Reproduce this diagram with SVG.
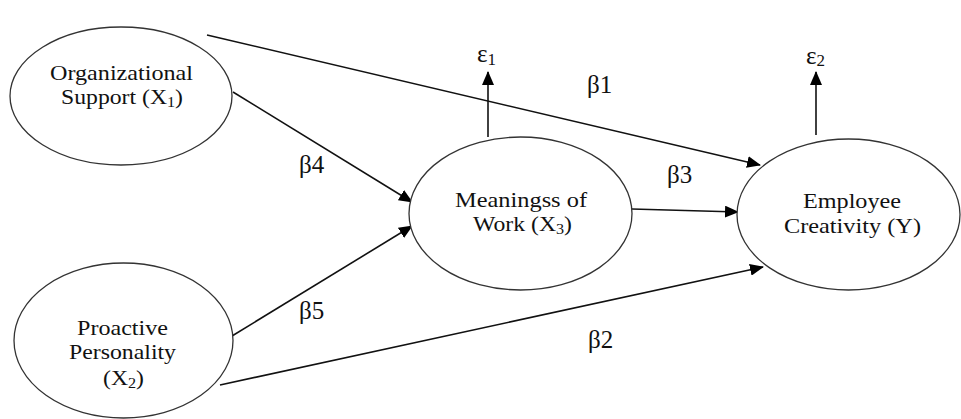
<svg xmlns="http://www.w3.org/2000/svg" width="961" height="419" viewBox="0 0 961 419">
<defs>
<style>
.node ellipse{fill:#fff;stroke:#333;stroke-width:1.3}
.conn path{fill:none;stroke:#111;stroke-width:1.6}
</style>
<marker id="ah" markerUnits="userSpaceOnUse" markerWidth="14" markerHeight="12" refX="13" refY="6" orient="auto">
<path d="M0,0 L14,6 L0,12 z" fill="#000"/>
</marker>
</defs>
<rect width="961" height="419" fill="#fff"/>
<g id="conn" class="conn">
<path d="M207,35 L760,165" marker-end="url(#ah)"/>
<path d="M233,92 L412,202" marker-end="url(#ah)"/>
<path d="M232,336 L412,226" marker-end="url(#ah)"/>
<path d="M632,209 L738,212" marker-end="url(#ah)"/>
<path d="M220,385 L763,267" marker-end="url(#ah)"/>
<path d="M488,137 L488,72" marker-end="url(#ah)"/>
<path d="M816,135 L816,72" marker-end="url(#ah)"/>
</g>
<g font-family="Liberation Serif, DejaVu Serif, Times New Roman, serif" font-size="22" fill="#111" text-anchor="middle">
<g id="n1" class="node">
<ellipse cx="121" cy="96" rx="111" ry="69"/>
<text x="121.5" y="80" textLength="143" lengthAdjust="spacingAndGlyphs">Organizational</text>
<text x="122" y="104" textLength="122" lengthAdjust="spacingAndGlyphs">Support (X<tspan font-size="15" dy="3">1</tspan><tspan dy="-3">)</tspan></text>
</g>
<g id="n2" class="node">
<ellipse cx="123.5" cy="340.5" rx="109.5" ry="77.5"/>
<text x="122.5" y="335" textLength="91" lengthAdjust="spacingAndGlyphs">Proactive</text>
<text x="122.5" y="359" textLength="107" lengthAdjust="spacingAndGlyphs">Personality</text>
<text x="123.5" y="385" textLength="41" lengthAdjust="spacingAndGlyphs">(X<tspan font-size="15" dy="3">2</tspan><tspan dy="-3">)</tspan></text>
</g>
<g id="n3" class="node">
<ellipse cx="520.5" cy="213.5" rx="111.5" ry="76.5"/>
<text x="521" y="207" textLength="132" lengthAdjust="spacingAndGlyphs">Meaningss of</text>
<text x="522.5" y="231" textLength="99" lengthAdjust="spacingAndGlyphs">Work (X<tspan font-size="15" dy="3">3</tspan><tspan dy="-3">)</tspan></text>
</g>
<g id="n4" class="node">
<ellipse cx="848.5" cy="214.5" rx="111.5" ry="75.5"/>
<text x="852" y="208" textLength="98" lengthAdjust="spacingAndGlyphs">Employee</text>
<text x="852.5" y="233" textLength="137" lengthAdjust="spacingAndGlyphs">Creativity (Y)</text>
</g>
</g>
<g id="labels" font-family="Liberation Serif, DejaVu Serif, Times New Roman, serif" font-size="25" fill="#111">
<text x="587" y="93">β1</text>
<text x="588" y="348">β2</text>
<text x="667" y="183">β3</text>
<text x="299" y="173">β4</text>
<text x="299" y="319">β5</text>
<text x="477" y="62">ε<tspan font-size="17" dy="3">1</tspan></text>
<text x="806" y="64">ε<tspan font-size="17" dy="2">2</tspan></text>
</g>
</svg>
